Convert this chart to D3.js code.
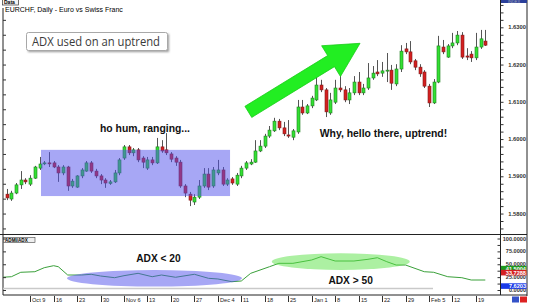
<!DOCTYPE html>
<html><head><meta charset="utf-8">
<script src="https://cdn.jsdelivr.net/npm/d3@7"></script>
<style>html,body{margin:0;padding:0;background:#fff;overflow:hidden}svg{display:block}</style>
</head><body><svg id="c" width="536" height="304"></svg>
<script>
// ---- data (EURCHF daily, Oct 2 .. Feb 21) ----
const opens = [
1.5852,1.5839,1.5855,1.5877,1.5890,1.5879,1.5895,1.5922,1.5934,1.5936,
1.5936,1.5925,1.5909,1.5925,1.5874,1.5871,1.5901,1.5914,1.5936,1.5914,
1.5901,1.5890,1.5881,1.5885,1.5909,1.5949,1.5979,1.5963,1.5971,1.5949,
1.5922,1.5944,1.5936,1.5979,1.5971,1.5960,1.5949,1.5938,1.5874,1.5852,
1.5831,1.5844,1.5874,1.5906,1.5874,1.5909,1.5917,1.5879,1.5893,1.5879,
1.5901,1.5922,1.5933,1.5938,1.5968,1.5981,1.6008,1.6022,1.6048,1.6030,
1.6011,1.6005,1.6019,1.6086,1.6070,1.6089,1.6105,1.6145,1.6132,1.6070,
1.6099,1.6137,1.6132,1.6105,1.6124,1.6153,1.6124,1.6137,1.6164,1.6180,
1.6177,1.6184,1.6185,1.6148,1.6188,1.6242,1.6234,1.6210,1.6193,1.6180,
1.6142,1.6097,1.6153,1.6247,1.6220,1.6250,1.6258,1.6279,1.6223,1.6228,
1.6218,1.6247,1.6263];
const highs = [
1.5866,1.5861,1.5882,1.5914,1.5895,1.5903,1.5928,1.5952,1.5941,1.5965,
1.5941,1.5930,1.5930,1.5928,1.5893,1.5903,1.5922,1.5941,1.5941,1.5920,
1.5906,1.5895,1.5890,1.5917,1.5949,1.5984,1.5984,1.5976,1.5976,1.5954,
1.5952,1.5952,1.6003,1.5997,1.6016,1.5965,1.5954,1.5944,1.5879,1.5858,
1.5852,1.5890,1.5922,1.5922,1.5925,1.5944,1.5925,1.5895,1.5898,1.5909,
1.5928,1.5941,1.5946,1.5997,1.5997,1.6014,1.6035,1.6057,1.6054,1.6046,
1.6051,1.6027,1.6105,1.6105,1.6094,1.6116,1.6167,1.6159,1.6137,1.6124,
1.6159,1.6180,1.6142,1.6137,1.6169,1.6180,1.6148,1.6204,1.6196,1.6212,
1.6207,1.6231,1.6199,1.6201,1.6252,1.6258,1.6263,1.6215,1.6201,1.6185,
1.6148,1.6161,1.6277,1.6266,1.6255,1.6285,1.6290,1.6287,1.6244,1.6236,
1.6285,1.6293,1.6293];
const lows = [
1.5836,1.5834,1.5852,1.5866,1.5879,1.5874,1.5893,1.5917,1.5930,1.5925,
1.5922,1.5885,1.5903,1.5861,1.5869,1.5869,1.5895,1.5912,1.5909,1.5895,
1.5879,1.5869,1.5877,1.5882,1.5903,1.5944,1.5957,1.5954,1.5938,1.5922,
1.5917,1.5930,1.5933,1.5963,1.5957,1.5938,1.5928,1.5869,1.5844,1.5820,
1.5823,1.5839,1.5869,1.5863,1.5869,1.5903,1.5874,1.5874,1.5877,1.5874,
1.5895,1.5917,1.5930,1.5936,1.5965,1.5976,1.6003,1.6019,1.6024,1.6008,
1.6003,1.5997,1.6014,1.6065,1.6067,1.6083,1.6102,1.6126,1.6059,1.6065,
1.6094,1.6126,1.6099,1.6094,1.6118,1.6118,1.6118,1.6132,1.6159,1.6169,
1.6167,1.6153,1.6132,1.6142,1.6180,1.6228,1.6201,1.6185,1.6167,1.6137,
1.6086,1.6094,1.6150,1.6228,1.6218,1.6244,1.6252,1.6215,1.6212,1.6207,
1.6212,1.6242,1.6250];
const closes = [
1.5842,1.5855,1.5877,1.5890,1.5885,1.5895,1.5925,1.5933,1.5936,1.5934,
1.5925,1.5909,1.5925,1.5874,1.5887,1.5901,1.5917,1.5936,1.5914,1.5901,
1.5890,1.5882,1.5885,1.5909,1.5944,1.5979,1.5963,1.5971,1.5944,1.5938,
1.5944,1.5936,1.5979,1.5968,1.5963,1.5946,1.5938,1.5874,1.5855,1.5836,
1.5844,1.5874,1.5906,1.5871,1.5917,1.5917,1.5879,1.5890,1.5882,1.5903,
1.5922,1.5936,1.5938,1.5968,1.5981,1.6008,1.6024,1.6048,1.6030,1.6014,
1.6008,1.6022,1.6086,1.6070,1.6089,1.6110,1.6145,1.6132,1.6073,1.6105,
1.6137,1.6132,1.6105,1.6124,1.6153,1.6124,1.6137,1.6164,1.6177,1.6175,
1.6183,1.6185,1.6150,1.6188,1.6236,1.6234,1.6207,1.6193,1.6175,1.6142,
1.6097,1.6153,1.6250,1.6234,1.6250,1.6258,1.6279,1.6220,1.6220,1.6218,
1.6247,1.6269,1.6252];
const dateTickIndex = [5,10,15,20,25,30,35,40,45,50,55,60,65,70,75,80,85,90,95,100];
const dateTickLabels = ["Oct 9","16","23","30","Nov 6","13","20","27","Dec 4","11","18","25","Jan 1","8","15","22","29","Feb 5","12","19"];
const priceTicks = [1.58,1.59,1.60,1.61,1.62,1.63];
const adxIndex = [-1,1,3,6,8,10,11,13,16,18,20,23,25,28,31,33,36,40,43,45,48,50,52,56,58,61,65,67,70,74,77,79,81,83,85,89,91,94,97,99,102];
const adxValues = [24.7,25.8,34.4,35.5,43.3,47.2,45.2,29.1,29.1,30.5,27.2,23.9,27.8,32.4,25.8,29.1,24.7,30.5,22.7,21.4,16.1,17.5,32.4,45.2,51.8,51.8,58.3,64.7,56.3,56.3,59.6,62.7,55.0,48.5,48.5,35.5,34.4,25.8,23.9,19.4,19.4];
const adxTicks = [0,25,50,75,100];
const adxLastValues = [41.5004,33.7288,7.6203];
const adxLastColors = ["#1e9a1e","#d42020","#1a3ae8"];

// ---- layout ----
const plotL = 3, plotR = 500.5, axisR = 527, mainB = 234.5, adxB = 295;
const svg = d3.select("#c");
const x = d3.scaleLinear().domain([0, 102]).range([6.7, 485.3]);
const yP = d3.scaleLinear().domain([1.58, 1.63]).range([213.55, 27.3]);
const yA = d3.scaleLinear().domain([0, 100]).range([290, 238.5]);

const defs = svg.append("defs");
defs.append("clipPath").attr("id","cm").append("rect").attr("x",plotL).attr("y",0).attr("width",plotR-plotL).attr("height",mainB);
defs.append("clipPath").attr("id","ca").append("rect").attr("x",plotL).attr("y",mainB).attr("width",plotR-plotL).attr("height",adxB-mainB);
const f = defs.append("filter").attr("id","sh").attr("x","-10%").attr("y","-30%").attr("width","130%").attr("height","180%");
f.append("feGaussianBlur").attr("stdDeviation",1.2);

// frame lines
const frame = svg.append("g").attr("stroke","#222").attr("stroke-width",1).attr("fill","none");
frame.append("line").attr("x1",plotL).attr("x2",plotL).attr("y1",8).attr("y2",adxB);
frame.append("line").attr("x1",plotR).attr("x2",plotR).attr("y1",0).attr("y2",adxB);
frame.append("line").attr("x1",axisR).attr("x2",axisR).attr("y1",0).attr("y2",adxB+1);
frame.append("line").attr("x1",0).attr("x2",axisR).attr("y1",mainB).attr("y2",mainB);
frame.append("line").attr("x1",plotL).attr("x2",axisR).attr("y1",adxB).attr("y2",adxB);

// right price axis
const pMinor = d3.range(1.572, 1.6362, 0.002);
svg.append("g").attr("transform",`translate(${plotR},0)`)
  .call(d3.axisRight(yP).tickValues(pMinor.filter(v=>yP(v)>1&&yP(v)<mainB-1)).tickSize(3).tickFormat(""))
  .call(g=>{g.select(".domain").remove(); g.selectAll("line").attr("stroke","#333");});
svg.append("g").selectAll("text").data(priceTicks).join("text")
  .attr("x",526).attr("y",d=>yP(d)+2).attr("text-anchor","end")
  .attr("font-family","Liberation Sans, Arial, sans-serif").attr("font-weight","bold")
  .attr("font-size",5.8).attr("fill","#333").text(d=>d3.format(".4f")(d));
// left price ticks
svg.append("g").attr("transform",`translate(${plotL},0)`)
  .call(d3.axisRight(yP).tickValues(d3.range(1.572,1.6362,0.004).filter(v=>yP(v)>10&&yP(v)<mainB-1)).tickSize(3).tickFormat(""))
  .call(g=>{g.select(".domain").remove(); g.selectAll("line").attr("stroke","#333");});

// candles
const idx = d3.range(opens.length);
const gc = svg.append("g").attr("clip-path","url(#cm)");
gc.selectAll("line.w").data(idx).join("line").attr("class","w")
  .attr("x1",i=>Math.round(x(i))+0.5).attr("x2",i=>Math.round(x(i))+0.5)
  .attr("y1",i=>yP(highs[i])).attr("y2",i=>yP(lows[i]))
  .attr("stroke","#555").attr("stroke-width",1);
gc.selectAll("rect.b").data(idx).join("rect").attr("class","b")
  .attr("x",i=>Math.round(x(i))-1).attr("width",3)
  .attr("y",i=>yP(Math.max(opens[i],closes[i])))
  .attr("height",i=>Math.max(1,Math.abs(yP(opens[i])-yP(closes[i]))))
  .attr("fill",i=>closes[i]>=opens[i]?"#33e033":"#d42020")
  .attr("stroke",i=>closes[i]>=opens[i]?"#1f7f1f":"#7f1a1a").attr("stroke-width",0.6);

// ranging box
const rangeBox = {i0:7.31, i1:47.6, pTop:1.5971, pBot:1.5847};
gc.append("rect").attr("x",x(rangeBox.i0)).attr("width",x(rangeBox.i1)-x(rangeBox.i0))
  .attr("y",yP(rangeBox.pTop)).attr("height",yP(rangeBox.pBot)-yP(rangeBox.pTop))
  .attr("fill","rgb(80,80,235)").attr("fill-opacity",0.5);

// arrow
const arrow = {i0:51.5, p0:1.6073, i1:75.3, p1:1.6257};
(function(){
  const S=[x(arrow.i0),yP(arrow.p0)], T=[x(arrow.i1),yP(arrow.p1)];
  const dx=T[0]-S[0], dy=T[1]-S[1], L=Math.hypot(dx,dy), u=[dx/L,dy/L], n=[-u[1],u[0]];
  const hl=34, hh=18, sw=6.5;
  const B=[T[0]-u[0]*hl, T[1]-u[1]*hl];
  const P=(p,k)=>[p[0]+n[0]*k,p[1]+n[1]*k];
  const pts=[P(S,sw),P(B,sw),P(B,hh),T,P(B,-hh),P(B,-sw),P(S,-sw)];
  gc.append("path").attr("d","M"+pts.map(p=>p.join(",")).join("L")+"Z")
    .attr("fill","#22ee22").attr("stroke","#1bcc1b").attr("stroke-width",0.8);
})();

// main annotations
const font = "Liberation Sans, Arial, sans-serif";
svg.append("text").attr("x",x(29.47)).attr("y",yP(1.6019)).attr("text-anchor","middle")
  .attr("font-family",font).attr("font-weight","bold").attr("font-size",10.4).attr("fill","#111").text("ho hum, ranging...");
svg.append("text").attr("x",x(80.3)).attr("y",yP(1.6005)).attr("text-anchor","middle")
  .attr("font-family",font).attr("font-weight","bold").attr("font-size",10.4).attr("fill","#111").text("Why, hello there, uptrend!");

// callout
svg.append("rect").attr("x",28).attr("y",34).attr("width",141).attr("height",18).attr("fill","#999").attr("filter","url(#sh)");
svg.append("rect").attr("x",26.5).attr("y",32.5).attr("width",141).attr("height",18).attr("rx",2)
  .attr("fill","#fff").attr("stroke","#a8a8a8");
svg.append("text").attr("x",32).attr("y",45.5).attr("font-family","Open Sans, sans-serif").attr("font-size",13)
  .attr("fill","#3a3a3a").attr("textLength",128).attr("lengthAdjust","spacingAndGlyphs").text("ADX used on an uptrend");

// title / labels
svg.append("rect").attr("x",2.5).attr("y",-0.5).attr("width",16).attr("height",5.5).attr("fill","#f4f4f4").attr("stroke","#333").attr("stroke-width",0.7);
svg.append("text").attr("x",4).attr("y",4.3).attr("font-family",font).attr("font-weight","bold").attr("font-size",5).attr("fill","#000").text("Data");
svg.append("text").attr("x",5).attr("y",12.3).attr("font-family",font).attr("font-size",7).attr("fill","#000").text("EURCHF, Daily - Euro vs Swiss Franc");
svg.append("rect").attr("x",501).attr("y",-1).attr("width",26).attr("height",4).attr("fill","#2a3f9a");
svg.append("text").attr("x",514).attr("y",2.6).attr("text-anchor","middle").attr("font-family",font).attr("font-size",4).attr("fill","#aab").text("INDEX");

// ADX panel
const ga = svg.append("g").attr("clip-path","url(#ca)");
ga.append("line").attr("x1",plotL).attr("x2",433).attr("y1",288.5).attr("y2",288.5).attr("stroke","#c9c9c9").attr("stroke-width",1.5);
ga.append("path").datum(adxIndex.map((d,k)=>[d,adxValues[k]]))
  .attr("d",d3.line().x(d=>x(d[0])).y(d=>yA(d[1])))
  .attr("fill","none").attr("stroke","#3aa03a").attr("stroke-width",1);
const ellipses = [{i:31.5,v:22.7,rx:87.5,ry:8.3,c:"rgb(80,80,235)"},{i:71.2,v:55,rx:69,ry:8.3,c:"rgb(90,225,70)"}];
ga.selectAll("ellipse").data(ellipses).join("ellipse")
  .attr("cx",d=>x(d.i)).attr("cy",d=>yA(d.v)).attr("rx",d=>d.rx).attr("ry",d=>d.ry)
  .attr("fill",d=>d.c).attr("fill-opacity",0.5);
svg.append("text").attr("x",x(32.35)).attr("y",yA(54.4)).attr("text-anchor","middle")
  .attr("font-family",font).attr("font-weight","bold").attr("font-size",10.2).attr("fill","#111").text("ADX < 20");
svg.append("text").attr("x",x(73.3)).attr("y",yA(11.65)).attr("text-anchor","middle")
  .attr("font-family",font).attr("font-weight","bold").attr("font-size",10.2).attr("fill","#111").text("ADX > 50");
svg.append("rect").attr("x",3.5).attr("y",237.5).attr("width",31.5).attr("height",5).attr("fill","#eee").attr("stroke","#444").attr("stroke-width",0.6);
svg.append("text").attr("x",5).attr("y",241.8).attr("font-family",font).attr("font-weight","bold").attr("font-size",4.6).attr("fill","#000").text("ADMI/ADX");

// ADX axes
svg.append("g").attr("transform",`translate(${plotR},0)`)
  .call(d3.axisLeft(yA).tickValues(d3.range(0,101,12.5)).tickSize(3).tickFormat(""))
  .call(g=>{g.select(".domain").remove(); g.selectAll("line").attr("stroke","#333");});
svg.append("g").attr("transform",`translate(${plotL},0)`)
  .call(d3.axisRight(yA).tickValues(adxTicks).tickSize(3).tickFormat(""))
  .call(g=>{g.select(".domain").remove(); g.selectAll("line").attr("stroke","#333");});
svg.append("g").selectAll("text").data(adxTicks).join("text")
  .attr("x",526).attr("y",d=>yA(d)+2).attr("text-anchor","end")
  .attr("font-family",font).attr("font-weight","bold").attr("font-size",5.6).attr("fill","#333").text(d=>d3.format(".4f")(d));
const lv = svg.append("g").selectAll("g").data(adxLastValues).join("g");
lv.append("rect").attr("x",plotR+0.5).attr("y",d=>yA(d)-2.8).attr("width",axisR-plotR-1).attr("height",5.6).attr("fill",(d,k)=>adxLastColors[k]);
lv.append("text").attr("x",526).attr("y",d=>yA(d)+2).attr("text-anchor","end")
  .attr("font-family",font).attr("font-weight","bold").attr("font-size",5.6).attr("fill","#fff").text(d=>d3.format(".4f")(d));

// date axis
const dt = svg.append("g").selectAll("g").data(dateTickIndex).join("g")
  .attr("transform",d=>`translate(${Math.round(x(d))+0.5},0)`);
dt.append("line").attr("y1",adxB+1).attr("y2",302).attr("stroke","#333");
dt.append("text").attr("x",1.5).attr("y",301.5).attr("font-family",font).attr("font-size",5.6).attr("fill","#222")
  .text((d,k)=>dateTickLabels[k]);

// bottom-right buttons
svg.append("rect").attr("x",512).attr("y",296.5).attr("width",7).attr("height",6).attr("fill","#3452c8");
svg.append("rect").attr("x",520).attr("y",296.5).attr("width",7).attr("height",6).attr("fill","#dd2222");
</script></body></html>
